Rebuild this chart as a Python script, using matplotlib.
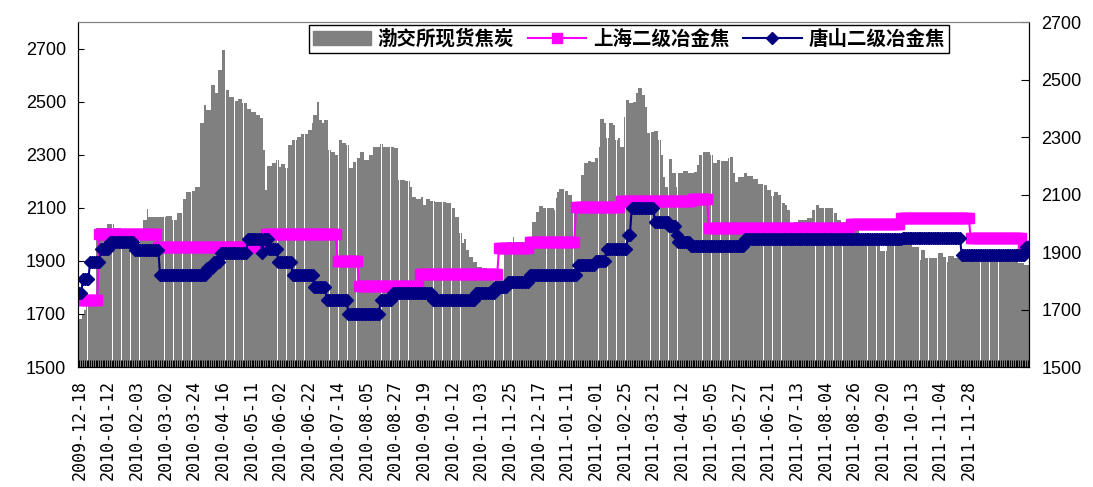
import numpy as np
import matplotlib
matplotlib.use('Agg')
import matplotlib.pyplot as plt
from matplotlib.patches import Patch
from matplotlib.lines import Line2D

plt.rcParams['font.family'] = ['Liberation Sans', 'Noto Sans CJK SC', 'DejaVu Sans']

# 渤交所现货焦炭: (price, number of trading days at that price)
coke_runs = [
    (1680, 2), (1700, 1), (1715, 1), (1730, 1), (1750, 5), (2024, 6), (2039, 4),
    (2024, 4), (2016, 12), (2054, 2), (2096, 1), (2065, 10), (2070, 3), (2055, 3),
    (2080, 3), (2133, 2), (2160, 3), (2163, 2), (2180, 3), (2420, 2), (2488, 1),
    (2469, 3), (2563, 2), (2533, 2), (2620, 2), (2695, 2), (2544, 2), (2518, 3),
    (2502, 2), (2509, 2), (2495, 3), (2472, 2), (2462, 3), (2450, 2), (2438, 2),
    (2318, 1), (2167, 1), (2258, 3), (2269, 2), (2280, 2), (2255, 1), (2265, 2),
    (2250, 2), (2337, 2), (2356, 3), (2368, 2), (2378, 4), (2393, 2), (2420, 1),
    (2450, 2), (2500, 1), (2431, 2), (2420, 1), (2431, 2), (2318, 2), (2310, 2),
    (2299, 2), (2356, 2), (2344, 2), (2337, 2), (2250, 2), (2274, 2), (2286, 2),
    (2311, 2), (2280, 3), (2299, 2), (2330, 4), (2340, 2), (2330, 2), (2328, 4),
    (2325, 2), (2205, 4), (2200, 3), (2180, 1), (2142, 2), (2133, 3), (2142, 1),
    (2110, 2), (2133, 2), (2127, 3), (2121, 6), (2117, 3), (2099, 2), (2066, 2),
    (2005, 2), (1967, 1), (1982, 1), (1941, 2), (1916, 2), (1897, 2), (1878, 3),
    (1872, 3), (1866, 5), (1858, 4), (1928, 2), (1972, 3), (1990, 1), (1972, 2),
    (1970, 8), (2048, 2), (2085, 2), (2107, 2), (2100, 6), (2092, 1), (2137, 1),
    (2158, 1), (2170, 3), (2165, 2), (2148, 2), (2090, 5), (2224, 2), (2268, 2),
    (2277, 2), (2272, 2), (2286, 2), (2330, 1), (2433, 2), (2420, 1), (2362, 2),
    (2418, 2), (2411, 1), (2356, 2), (2362, 1), (2330, 2), (2443, 1), (2506, 2),
    (2494, 2), (2500, 2), (2532, 1), (2551, 2), (2525, 2), (2481, 1), (2380, 2),
    (2387, 2), (2391, 2), (2356, 2), (2299, 1), (2217, 1), (2180, 2), (2283, 2),
    (2232, 2), (2180, 1), (2230, 3), (2238, 3), (2232, 3), (2235, 2), (2261, 1),
    (2299, 2), (2311, 4), (2299, 2), (2268, 2), (2280, 2), (2277, 4), (2286, 1),
    (2290, 2), (2230, 1), (2199, 2), (2217, 3), (2230, 2), (2220, 3), (2207, 3),
    (2190, 3), (2186, 2), (2167, 2), (2145, 2), (2161, 2), (2148, 2), (2117, 2),
    (2110, 1), (2092, 2), (2044, 2), (2048, 2), (2054, 5), (2060, 3), (2092, 2),
    (2110, 2), (2099, 8), (2079, 2), (2054, 2), (2048, 3), (2040, 4), (2016, 3),
    (1985, 9), (1962, 3), (1938, 4), (1963, 3), (1966, 5), (1972, 6), (1953, 4),
    (1903, 1), (1941, 2), (1910, 7), (1928, 3), (1916, 2), (1897, 1), (1918, 3),
    (1910, 4), (1903, 3), (1922, 29), (1893, 3), (1884, 3),
]

# 上海二级冶金焦
shanghai_runs = [
    (1732, 11), (1962, 33), (1918, 60), (1962, 40), (1868, 12), (1782, 34),
    (1822, 44), (1915, 17), (1935, 26), (2057, 25), (2077, 40), (2083, 9),
    (1983, 79), (1999, 28), (2018, 39), (1948, 29), (1922, 4),
]

# 唐山二级冶金焦
tangshan_runs = [
    (1758, 2), (1805, 4), (1866, 6), (1912, 5), (1936, 14), (1907, 14), (1819, 26),
    (1845, 4), (1866, 4), (1898, 15), (1944, 8), (1898, 1), (1944, 3), (1912, 5),
    (1865, 8), (1819, 12), (1778, 7), (1732, 12), (1686, 18), (1732, 7), (1758, 22),
    (1732, 24), (1758, 11), (1778, 7), (1796, 12), (1821, 27), (1854, 10), (1868, 6),
    (1912, 12), (1959, 2), (2053, 13), (2004, 8), (1989, 4), (1960, 1), (1934, 7),
    (1922, 30), (1945, 88), (1950, 33), (1891, 36), (1918, 2),
]

date_labels = [
    '2009-12-18', '2010-01-12', '2010-02-03', '2010-03-02', '2010-03-24', '2010-04-16',
    '2010-05-11', '2010-06-02', '2010-06-22', '2010-07-14', '2010-08-05', '2010-08-27',
    '2010-09-19', '2010-10-12', '2010-11-03', '2010-11-25', '2010-12-17', '2011-01-11',
    '2011-02-01', '2011-02-25', '2011-03-21', '2011-04-12', '2011-05-05', '2011-05-27',
    '2011-06-21', '2011-07-13', '2011-08-04', '2011-08-26', '2011-09-20', '2011-10-13',
    '2011-11-04', '2011-11-28',
]
label_every = 16


def expand(runs):
    return np.repeat([v for v, n in runs], [n for v, n in runs])


coke = expand(coke_runs)
shanghai = expand(shanghai_runs)
tangshan = expand(tangshan_runs)
x = np.arange(len(coke))

fig = plt.figure(figsize=(10.93, 4.87), dpi=100)
ax = fig.add_axes([0.0718, 0.2464, 0.8696, 0.7084])
ax.bar(x, coke, width=0.93, color='#808080', linewidth=0)
ax.set_xlim(-0.5, len(coke) - 0.5)
ax.set_ylim(1500, 2800)
ax.set_yticks(range(1500, 2701, 200))
ax.tick_params(axis='y', direction='in', length=4, labelsize=13, pad=9)

ax.set_xticks(x[::label_every][:len(date_labels)])
ax.set_xticklabels(date_labels, rotation=90, family='DejaVu Sans Mono', fontsize=12)
ax.set_xticks(x, minor=True)
ax.tick_params(axis='x', which='both', direction='in', length=5, width=0.7, pad=9)

for s in ['left', 'bottom']:
    ax.spines[s].set_color('black')
ax.spines['top'].set_color('#808080')

ax2 = ax.twinx()
ax2.plot(x, shanghai, color='#FF00FF', lw=1.5, marker='s', ms=7, mec='#FF00FF', mfc='#FF00FF')
ax2.plot(x, tangshan, color='#000080', lw=1.5, marker='D', ms=6.5, mec='#000080', mfc='#000080')
ax2.set_ylim(1500, 2700)
ax2.set_yticks(range(1500, 2701, 200))
ax2.tick_params(axis='y', direction='in', length=6, labelsize=13, pad=9)
ax2.spines['top'].set_color('#808080')

handles = [
    Patch(color='#808080', label='渤交所现货焦炭'),
    Line2D([], [], color='#FF00FF', lw=1.5, marker='s', ms=7, label='上海二级冶金焦'),
    Line2D([], [], color='#000080', lw=1.5, marker='D', ms=6, label='唐山二级冶金焦'),
]
leg = ax2.legend(handles=handles, loc='upper center', bbox_to_anchor=(0.579, 0.99), ncol=3,
                 frameon=True, fancybox=False, edgecolor='black', framealpha=1,
                 prop={'family': ['Noto Sans CJK SC', 'DejaVu Sans'], 'size': 14, 'weight': 'bold'},
                 handlelength=3.0, handletextpad=0.35, columnspacing=0.7, borderpad=0.2,
                 borderaxespad=0)
leg.get_frame().set_linewidth(1.0)

fig.savefig('out.png', dpi=100)
